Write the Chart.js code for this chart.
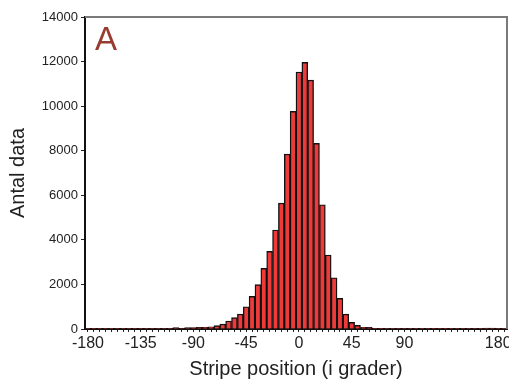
<!DOCTYPE html>
<html>
<head>
<meta charset="utf-8">
<script src="https://cdn.jsdelivr.net/npm/chart.js@4.4.1/dist/chart.umd.min.js"></script>
<style>
  html, body { margin: 0; padding: 0; background: #fff; }
  #wrap { width: 509px; height: 381px; position: relative; }
</style>
</head>
<body>
<div id="wrap"><canvas id="histChart"></canvas></div>
<script>
// bin start (degrees), 5 degree bins
const binStarts = [
    -180, -175, -170, -165, -160, -155, -150, -145, -140, -135, -130, -125,
    -120, -115, -110, -105, -100, -95, -90, -85, -80, -75, -70, -65,
    -60, -55, -50, -45, -40, -35, -30, -25, -20, -15, -10, -5,
    0, 5, 10, 15, 20, 25, 30, 35, 40, 45, 50, 55,
    60, 65, 70, 75, 80, 85, 90, 95, 100, 105, 110, 115,
    120, 125, 130, 135, 140, 145, 150, 155, 160, 165, 170, 175
];
// antal data per bin
const counts = [
    15, 15, 15, 15, 15, 15, 15, 15, 15, 15, 15, 15,
    15, 15, 15, 65, 20, 60, 60, 70, 80, 100, 150, 220,
    360, 510, 670, 1000, 1465, 1990, 2720, 3485, 4440, 5650, 7850, 9765,
    11530, 11965, 11170, 8330, 5575, 3320, 2300, 1375, 665, 295, 165, 80,
    70, 35, 35, 30, 30, 30, 10, 10, 10, 10, 10, 10,
    10, 10, 10, 10, 10, 10, 10, 10, 45, 45, 10, 10
];
// which bins carry a label on the x axis, and the text shown
const tickBins = [-180, -135, -90, -45, 0, 45, 90, 170];
const tickLabels = ['-180', '-135', '-90', '-45', '0', '45', '90', '180'];
const yTicks = [0, 2000, 4000, 6000, 8000, 10000, 12000, 14000];

const FONT = "'Liberation Sans', Arial, Helvetica, sans-serif";

// gray frame on top/right + the panel letter
const framePlugin = {
    id: 'frame',
    afterDraw: function (chart) {
        const ctx = chart.ctx;
        const a = chart.chartArea;
        ctx.save();
        ctx.strokeStyle = '#7a7a7a';
        ctx.lineWidth = 2;
        ctx.beginPath();
        ctx.moveTo(a.left, a.top);
        ctx.lineTo(a.right, a.top);
        ctx.lineTo(a.right, a.bottom);
        ctx.stroke();

        ctx.fillStyle = '#9a3b2f';
        ctx.font = '33px ' + FONT;
        ctx.textBaseline = 'alphabetic';
        ctx.fillText('A', a.left + 10, a.top + 33);
        ctx.restore();
    }
};

const ctx = document.getElementById('histChart').getContext('2d');
new Chart(ctx, {
    type: 'bar',
    data: {
        labels: binStarts,
        datasets: [{
            data: counts,
            backgroundColor: '#ef3a3a',
            borderColor: '#111',
            borderWidth: 1.4,
            barPercentage: 1,
            categoryPercentage: 1
        }]
    },
    options: {
        responsive: true,
        maintainAspectRatio: false,
        animation: false,
        layout: { padding: { left: 0, top: 17, right: 2, bottom: 0 } },
        plugins: {
            legend: { display: false },
            tooltip: { enabled: false }
        },
        scales: {
            x: {
                type: 'category',
                offset: true,
                afterFit: function (s) { s.height = 52; },
                border: { display: true, color: '#111', width: 2 },
                grid: { drawOnChartArea: false, offset: false, tickLength: 3, color: '#222' },
                ticks: {
                    autoSkip: false,
                    maxRotation: 0,
                    padding: 2,
                    color: '#222',
                    font: { family: FONT, size: 16 },
                    callback: function (value, index) {
                        const i = tickBins.indexOf(binStarts[index]);
                        return i >= 0 ? tickLabels[i] : '';
                    }
                },
                title: {
                    display: true,
                    text: 'Stripe position (i grader)',
                    color: '#222',
                    font: { family: FONT, size: 20 },
                    padding: { top: 0, bottom: 0 }
                }
            },
            y: {
                min: 0,
                max: 14000,
                afterFit: function (s) { s.width = 85; },
                afterBuildTicks: function (s) {
                    s.ticks = yTicks.map(v => ({ value: v }));
                },
                border: { display: true, color: '#111', width: 2 },
                grid: { drawOnChartArea: false, tickLength: 4, color: '#222' },
                ticks: {
                    padding: 3,
                    color: '#222',
                    font: { family: FONT, size: 13 },
                    callback: function (value) { return String(value); }
                },
                title: {
                    display: true,
                    text: 'Antal data',
                    color: '#222',
                    font: { family: FONT, size: 20 },
                    padding: { top: 6, bottom: 0 }
                }
            }
        }
    },
    plugins: [framePlugin]
});
</script>
</body>
</html>
